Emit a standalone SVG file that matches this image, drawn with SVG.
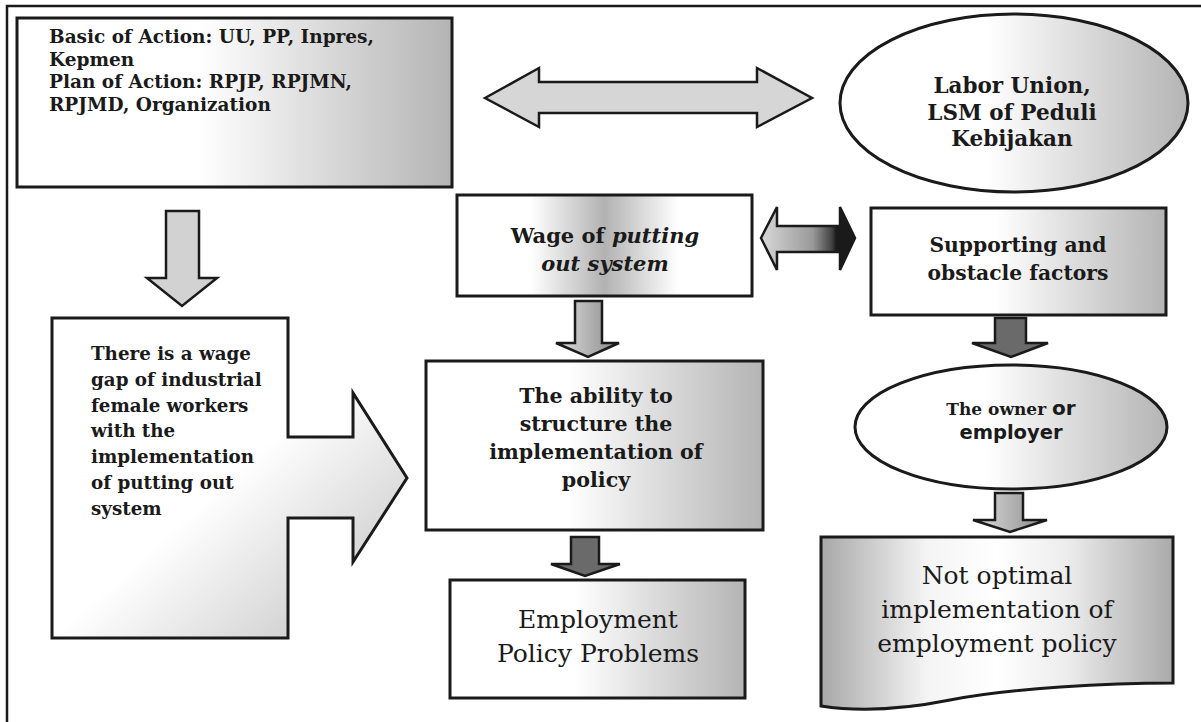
<svg xmlns="http://www.w3.org/2000/svg" width="1201" height="722" viewBox="0 0 1201 722">
<defs>
<linearGradient id="gR" x1="0" y1="0" x2="1" y2="0">
<stop offset="0" stop-color="#ffffff"/><stop offset="0.42" stop-color="#ffffff"/><stop offset="1" stop-color="#b4b4b4"/>
</linearGradient>
<linearGradient id="gMid" x1="0" y1="0" x2="1" y2="0">
<stop offset="0" stop-color="#ffffff"/><stop offset="0.25" stop-color="#ffffff"/><stop offset="0.5" stop-color="#b2b2b2"/><stop offset="0.75" stop-color="#ffffff"/><stop offset="1" stop-color="#ffffff"/>
</linearGradient>
<linearGradient id="gDoc" x1="0" y1="0" x2="1" y2="0">
<stop offset="0" stop-color="#a8a8a8"/><stop offset="0.3" stop-color="#f4f4f4"/><stop offset="0.5" stop-color="#ffffff"/><stop offset="0.7" stop-color="#ececec"/><stop offset="1" stop-color="#aaaaaa"/>
</linearGradient>
<linearGradient id="gDiag" x1="0" y1="0" x2="1" y2="1">
<stop offset="0" stop-color="#ffffff"/><stop offset="0.5" stop-color="#ffffff"/><stop offset="1" stop-color="#bdbdbd"/>
</linearGradient>
<linearGradient id="gDbl" x1="0" y1="0" x2="1" y2="0">
<stop offset="0" stop-color="#d8d8d8"/><stop offset="0.55" stop-color="#9a9a9a"/><stop offset="0.75" stop-color="#444444"/><stop offset="0.8" stop-color="#1a1a1a"/><stop offset="1" stop-color="#1a1a1a"/>
</linearGradient>
<linearGradient id="gArr" x1="0" y1="0" x2="1" y2="0">
<stop offset="0" stop-color="#dedede"/><stop offset="1" stop-color="#8a8a8a"/>
</linearGradient>
<style>
.box{stroke:#1a1a1a;stroke-width:3}
.arr{stroke:#1a1a1a;stroke-width:2.5;stroke-linejoin:miter}
.b{font-family:"DejaVu Serif","Liberation Serif",serif;font-weight:bold;fill:#1a1a1a}
.r{font-family:"DejaVu Serif","Liberation Serif",serif;font-weight:normal;fill:#1a1a1a}
.s{font-family:"DejaVu Sans","Liberation Sans",sans-serif;font-weight:bold;fill:#1a1a1a}
</style>
</defs>
<rect x="7" y="6" width="1220" height="740" fill="none" stroke="#1a1a1a" stroke-width="2.5"/>

<g id="connectors">
<path class="arr" fill="#d6d6d6" d="M485,98 L539,68 L539,82 L757,82 L757,68 L812,98 L757,127 L757,113 L539,113 L539,127 Z"/>
<path class="arr" fill="url(#gDbl)" d="M761,238 L777,207 L777,226 L840,226 L840,207 L855,238 L840,270 L840,252 L777,252 L777,270 Z"/>
<path class="arr" fill="#d2d2d2" d="M166,211 L199,211 L199,278 L217,278 L182,306 L147,278 L166,278 Z"/>
<path class="arr" fill="url(#gArr)" d="M575,301 L602,301 L602,343 L619,343 L588,357 L556,343 L575,343 Z"/>
<path class="arr" fill="#6a6a6a" d="M995,318 L1026,318 L1026,343 L1048,343 L1011,357 L972,343 L995,343 Z"/>
<path class="arr" fill="#6a6a6a" d="M571,537 L599,537 L599,564 L620,564 L585,576 L551,564 L571,564 Z"/>
<path class="arr" fill="url(#gArr)" d="M995,493 L1023,493 L1023,520 L1047,520 L1010,532 L973,520 L995,520 Z"/>
</g>

<g id="basic">
<rect class="box" x="17" y="18" width="435" height="169" fill="url(#gR)"/>
<text class="b" font-size="18.5" x="49" y="43">Basic of Action: UU, PP, Inpres,</text>
<text class="b" font-size="18.5" x="49" y="65.5">Kepmen</text>
<text class="b" font-size="18.5" x="49" y="88">Plan of Action: RPJP, RPJMN,</text>
<text class="b" font-size="18.5" x="49" y="110.5">RPJMD, Organization</text>
</g>

<g id="labor">
<ellipse class="box" cx="1014" cy="103" rx="174" ry="89" fill="url(#gR)"/>
<text class="b" font-size="21.5" x="1012" y="93" text-anchor="middle">Labor Union,</text>
<text class="b" font-size="21.5" x="1012" y="120" text-anchor="middle">LSM of Peduli</text>
<text class="b" font-size="21.5" x="1012" y="146" text-anchor="middle">Kebijakan</text>
</g>

<g id="gap">
<path class="box" fill="url(#gDiag)" d="M52,318 L288,318 L288,437 L353,437 L353,393 L407,478 L353,562 L353,518 L288,518 L288,638 L52,638 Z"/>
<text class="b" font-size="18.3" x="91" y="360">There is a wage</text>
<text class="b" font-size="18.3" x="91" y="385.8">gap of industrial</text>
<text class="b" font-size="18.3" x="91" y="411.6">female workers</text>
<text class="b" font-size="18.3" x="91" y="437.4">with the</text>
<text class="b" font-size="18.3" x="91" y="463.2">implementation</text>
<text class="b" font-size="18.3" x="91" y="489">of putting out</text>
<text class="b" font-size="18.3" x="91" y="514.8">system</text>
</g>

<g id="wage">
<rect class="box" x="457" y="195" width="295" height="101" fill="url(#gMid)"/>
<text class="b" font-size="21" x="605" y="243" text-anchor="middle">Wage of <tspan font-style="italic">putting</tspan></text>
<text class="b" font-size="21" x="605" y="271" text-anchor="middle" font-style="italic">out system</text>
</g>

<g id="supporting">
<rect class="box" x="871" y="208" width="295" height="107" fill="url(#gR)"/>
<text class="b" font-size="20.3" x="1018" y="252" text-anchor="middle">Supporting and</text>
<text class="b" font-size="20.3" x="1018" y="280" text-anchor="middle">obstacle factors</text>
</g>

<g id="ability">
<rect class="box" x="426" y="361" width="337" height="169" fill="url(#gR)"/>
<text class="b" font-size="20.6" x="596" y="403" text-anchor="middle">The ability to</text>
<text class="b" font-size="20.6" x="596" y="431" text-anchor="middle">structure the</text>
<text class="b" font-size="20.6" x="596" y="459" text-anchor="middle">implementation of</text>
<text class="b" font-size="20.6" x="596" y="487" text-anchor="middle">policy</text>
</g>

<g id="owner">
<ellipse class="box" cx="1011" cy="427" rx="156" ry="62" fill="url(#gR)"/>
<text x="1011" y="415" text-anchor="middle"><tspan class="b" font-size="17">The owner </tspan><tspan class="s" font-size="20">or</tspan></text>
<text class="s" font-size="19.5" x="1011" y="439" text-anchor="middle">employer</text>
</g>

<g id="employment">
<rect class="box" x="450" y="580" width="295" height="118" fill="url(#gR)"/>
<text class="r" font-size="25" x="598" y="628" text-anchor="middle">Employment</text>
<text class="r" font-size="25" x="598" y="662" text-anchor="middle">Policy Problems</text>
</g>

<g id="notoptimal">
<path class="box" fill="url(#gDoc)" d="M821,537 L1173,537 L1173,683 C1110,683 1010,688 950,700 C900,710 860,712 821,706 Z"/>
<text class="r" font-size="25" x="997" y="584" text-anchor="middle">Not optimal</text>
<text class="r" font-size="25" x="997" y="618" text-anchor="middle">implementation of</text>
<text class="r" font-size="25" x="997" y="652" text-anchor="middle">employment policy</text>
</g>
</svg>
